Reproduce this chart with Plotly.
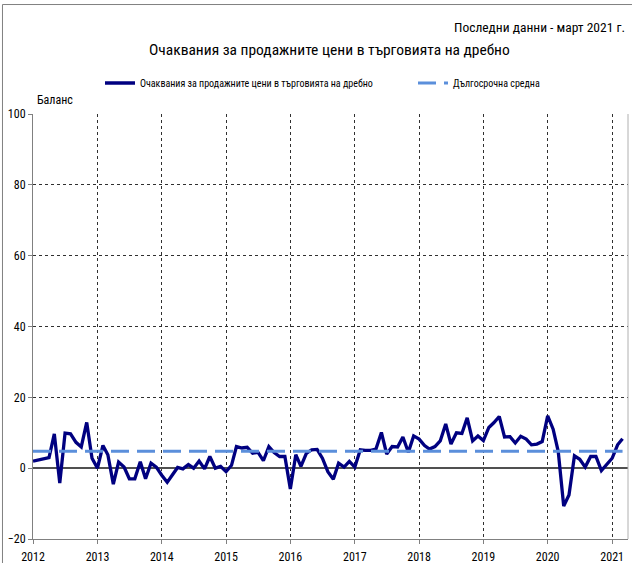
"""
Очаквания за продажните цени в търговията на дребно (баланс), 2012 - март 2021.
"""

import pandas as pd
import plotly.graph_objects as go

# месечни стойности на баланса, януари 2012 - март 2021
expectations = [
    2.0, 2.3, 2.6, 3.0, 9.7, -4.2, 9.9, 9.7, 7.3, 6.0, 12.9, 2.8,        # 2012
    0.0, 6.4, 3.8, -4.5, 1.7, 0.3, -3.0, -3.0, 1.8, -3.0, 1.4, 0.3,      # 2013
    -2.0, -4.0, -2.0, 0.2, -0.2, 1.0, 0.0, 2.0, -0.2, 3.3, 0.0, 0.5,     # 2014
    -1.0, 0.8, 6.1, 5.7, 5.9, 4.2, 4.5, 2.1, 6.1, 4.4, 3.3, 3.3,         # 2015
    -5.9, 3.8, 0.5, 4.2, 5.2, 5.3, 2.8, -1.0, -3.1, 1.4, 0.3, 1.9,       # 2016
    0.3, 5.2, 5.0, 5.0, 5.4, 10.1, 4.0, 6.1, 6.0, 8.8, 4.5, 9.1,         # 2017
    8.2, 6.4, 5.4, 6.1, 7.7, 12.5, 6.8, 10.0, 9.8, 14.2, 7.7, 9.1,       # 2018
    7.8, 11.5, 12.8, 14.6, 8.8, 8.9, 7.1, 9.0, 8.2, 6.6, 6.8, 7.5,       # 2019
    14.8, 11.0, 4.7, -10.7, -7.6, 3.5, 2.5, 0.3, 3.3, 3.3, -0.7, 0.9,    # 2020
    2.8, 6.6, 8.3,                                                       # 2021
]
long_term_avg = 4.8

months = pd.date_range('2012-01-01', periods=len(expectations), freq='MS')
years = list(range(2012, 2022))

series_name = 'Очаквания за продажните цени в търговията на дребно'
avg_name = 'Дългосрочна средна'
title_text = 'Очаквания за продажните цени в търговията на дребно'
last_data = 'Последни данни - март 2021 г.'
y_title = 'Баланс'

FONT = 'Liberation Sans Narrow, Arial Narrow, Roboto Condensed, sans-serif'

fig = go.Figure()

fig.add_trace(go.Scatter(
    x=months,
    y=expectations,
    mode='lines',
    name=f'<span style="font-size:10px">{series_name}</span>',
    legendwidth=268,
    line=dict(color='#000080', width=3.3),
))

fig.add_trace(go.Scatter(
    x=months,
    y=[long_term_avg] * len(months),
    mode='lines',
    name=avg_name,
    line=dict(color='#5b8fdb', width=3, dash='18px,8px'),
))

# рамка около цялата графика (горе и вляво) и дясна граница на полето
border = dict(color='#808080', width=1)
fig.add_shape(type='line', xref='paper', yref='paper',
              x0=-0.0513, x1=1.0067, y0=1.2576, y1=1.2576, line=border)
fig.add_shape(type='line', xref='paper', yref='paper',
              x0=-0.0513, x1=-0.0513, y0=-0.0565, y1=1.2576, line=border)
fig.add_shape(type='line', xref='paper', yref='paper',
              x0=1, x1=1, y0=0, y1=1,
              line=dict(color='#b0b0b0', width=1))

fig.add_annotation(text=title_text, xref='paper', yref='paper',
                   x=0.499, y=1.1506, xanchor='center', yanchor='middle',
                   showarrow=False, font=dict(size=15.5, color='#000000'))
fig.add_annotation(text=last_data, xref='paper', yref='paper',
                   x=0.9983, y=1.2047, xanchor='right', yanchor='middle',
                   showarrow=False, font=dict(size=13.5, color='#000000'))
fig.add_annotation(text=y_title, xref='paper', yref='paper',
                   x=0.0034, y=1.033, xanchor='left', yanchor='middle',
                   showarrow=False, font=dict(size=12, color='#000000'))

fig.update_layout(
    width=632,
    height=563,
    margin=dict(l=33, r=4, t=114, b=24, autoexpand=False),
    paper_bgcolor='white',
    plot_bgcolor='white',
    font=dict(family=FONT, size=12, color='#000000'),
    showlegend=True,
    legend=dict(
        orientation='h',
        x=0.1126, y=1.073,
        xanchor='left', yanchor='middle',
        font=dict(size=10),
        bgcolor='rgba(0,0,0,0)',
        itemwidth=30,
    ),
)

fig.update_xaxes(
    type='date',
    range=['2012-01-01', '2021-04-01'],
    tickvals=[pd.Timestamp(f'{y}-01-01') for y in years],
    ticktext=[str(y) for y in years],
    ticks='outside', ticklen=4, tickcolor='#808080',
    showgrid=True, gridcolor='#303030', griddash='dot', gridwidth=1,
    showline=True, linecolor='#808080', linewidth=1,
    tickfont=dict(size=12),
    ticklabelstandoff=3,
    zeroline=False,
    automargin=False,
)

fig.update_yaxes(
    range=[-20, 100],
    dtick=20,
    ticks='outside', ticklen=4, tickcolor='#808080',
    showgrid=True, gridcolor='#303030', griddash='dot', gridwidth=1,
    showline=True, linecolor='#808080', linewidth=1,
    zeroline=True, zerolinecolor='#505050', zerolinewidth=1.5,
    tickfont=dict(size=12),
    automargin=False,
)

# без отстъпа на страницата, за да стои графиката в ъгъла на прозореца
fig.write_html('out.html', config={'displayModeBar': False},
               post_script="document.body.style.margin = '0px';")
